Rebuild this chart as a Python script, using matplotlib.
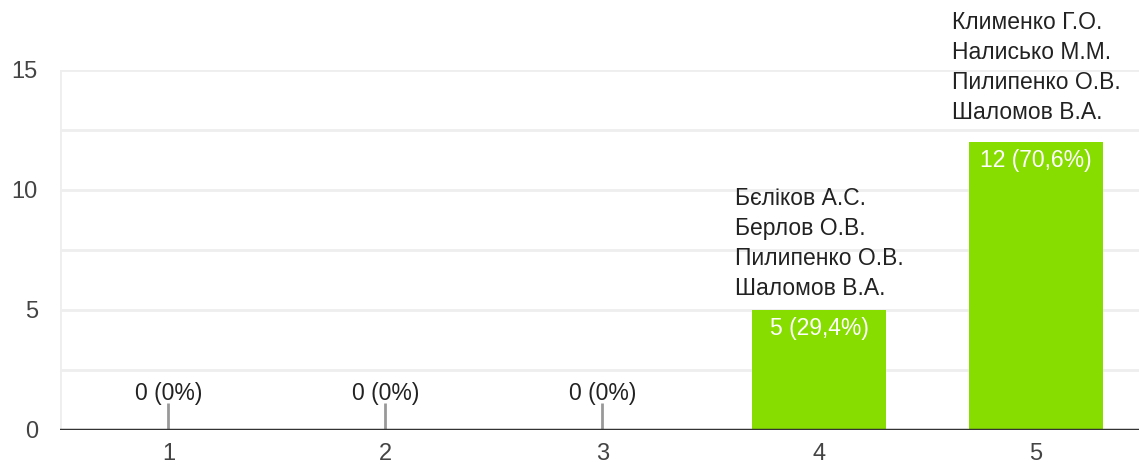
import matplotlib.pyplot as plt

plt.rcParams["font.family"] = ["Liberation Sans", "DejaVu Sans"]

categories = [1, 2, 3, 4, 5]
counts = [0, 0, 0, 5, 12]
labels = ["0 (0%)", "0 (0%)", "0 (0%)", "5 (29,4%)", "12 (70,6%)"]
names = {
    4: ["Бєліков А.С.", "Берлов О.В.", "Пилипенко О.В.", "Шаломов В.А."],
    5: ["Клименко Г.О.", "Налисько М.М.", "Пилипенко О.В.", "Шаломов В.А."],
}

bar_color = "#88dd00"
width = 0.62
fs = 16.5
# vertical gap (points) between bar top and its list of names
name_gap = {4: 7.5, 5: 13}

fig = plt.figure(figsize=(11.39, 4.66), dpi=100)
ax = fig.add_axes([60 / 1139, 36 / 466, 1 - 60 / 1139, 360 / 466])

ax.set_xlim(0.5, 5.475)
ax.set_ylim(0, 15)

for y in [2.5, 5, 7.5, 10, 12.5, 15]:
    ax.axhline(y, color="#eeeeee", lw=2, zorder=0)
ax.axvline(0.5, color="#eeeeee", lw=2, zorder=0)
ax.axhline(0, color="#333333", lw=2.5, zorder=3)

ax.bar(categories, counts, width=width, color=bar_color, zorder=2)

for x, v, lab in zip(categories, counts, labels):
    if v == 0:
        ax.vlines(x, 0, 1.12, color="#999999", lw=2, zorder=2)
        ax.annotate(lab, (x, 0), xytext=(0, 18), textcoords="offset points",
                    ha="center", va="bottom", fontsize=fs, color="#222222")
    else:
        ax.annotate(lab, (x, v), xytext=(0, -5), textcoords="offset points",
                    ha="center", va="top", fontsize=fs, color="white")

for x, lines in names.items():
    v = counts[categories.index(x)]
    ax.annotate("\n".join(lines), (x - width / 2, v), xytext=(-12, name_gap[x]),
                textcoords="offset points", ha="left", va="bottom",
                fontsize=fs, color="#222222", linespacing=1.385)

ax.set_xticks(categories)
ax.set_yticks([0, 5, 10, 15])
ax.tick_params(length=0, labelsize=17, colors="#444444")
ax.tick_params(axis="x", pad=9)
ax.tick_params(axis="y", pad=16)
for s in ax.spines.values():
    s.set_visible(False)

fig.savefig("out.png", dpi=100)
